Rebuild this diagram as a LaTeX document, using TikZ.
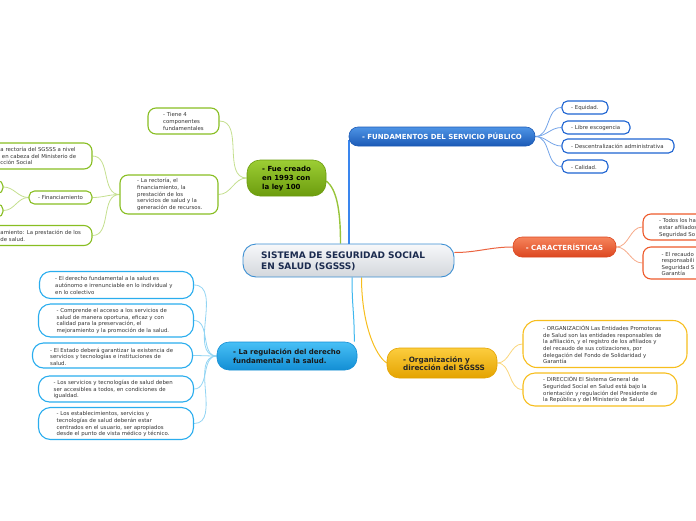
\documentclass[tikz,border=0pt]{standalone}
\usepackage{fontspec}
\setmainfont{DejaVu Sans}
\usetikzlibrary{backgrounds}
\definecolor{txt}{HTML}{363636}
\definecolor{navy}{HTML}{1B2B4F}
\definecolor{cenBorder}{HTML}{3C8FD2}
\definecolor{cenTop}{HTML}{F7F8FA}
\definecolor{cenBot}{HTML}{D3D7DC}
% green
\definecolor{gK}{HTML}{88BE22}
\definecolor{gL}{HTML}{C4DF8E}
\definecolor{gT}{HTML}{9CCE34}
\definecolor{gB}{HTML}{6C9C0E}
\definecolor{gM}{HTML}{98C43A}
% blue
\definecolor{bK}{HTML}{1E64D2}
\definecolor{bL}{HTML}{74A4E8}
\definecolor{bT}{HTML}{4E94E6}
\definecolor{bB}{HTML}{1B5AB6}
\definecolor{blueLine}{HTML}{3A86EE}
% red
\definecolor{rK}{HTML}{EE5A2B}
\definecolor{rL}{HTML}{F6AA8A}
\definecolor{rT}{HTML}{F6845C}
\definecolor{rB}{HTML}{DC4720}
\definecolor{rM}{HTML}{EB6440}
% orange
\definecolor{oK}{HTML}{F7BE1E}
\definecolor{oL}{HTML}{FAD67C}
\definecolor{oT}{HTML}{FCCD3E}
\definecolor{oB}{HTML}{E4A300}
\definecolor{oM}{HTML}{F7BE1E}
% cyan
\definecolor{cK}{HTML}{2AADEE}
\definecolor{cL}{HTML}{92D4F3}
\definecolor{cT}{HTML}{48C0F6}
\definecolor{cB}{HTML}{138ED4}
\definecolor{cM}{HTML}{3FB7EE}
\tikzset{
  kid/.style={draw=#1, line width=1.1pt, fill=white, rounded corners=8pt, inner sep=0pt},
  smallkid/.style={draw=#1, line width=1.1pt, fill=white, rounded corners=5.5pt, inner sep=0pt},
  ktext/.style={anchor=west, align=left, inner sep=0pt, text=txt, font=\fontsize{5.4}{6.6}\selectfont},
  mtext/.style={anchor=west, align=left, inner sep=0pt, font=\bfseries\fontsize{7}{8.6}\selectfont},
  mainbox/.style n args={3}{draw=#1, line width=0.6pt, top color=#2, bottom color=#3, inner sep=0pt},
  conn/.style={draw=#1, line width=0.8pt},
  mconn/.style={draw=#1, line width=1.2pt}
}
\begin{document}
\begin{tikzpicture}[x=1pt,y=-1pt]
\useasboundingbox (0,0) rectangle (696,520);
\clip (0,0) rectangle (696,520);

% ---------- central ----------
\node[draw=cenBorder, line width=0.9pt, top color=cenTop, bottom color=cenBot, rounded corners=13pt,
      minimum width=211pt, minimum height=33pt, inner sep=0pt] (C) at (348.5,260.5) {};
\node[anchor=west, align=left, inner sep=0pt, text=navy, font=\bfseries\fontsize{9}{11}\selectfont]
      (Ct) at (261,261.5) {SISTEMA DE SEGURIDAD SOCIAL\\EN SALUD (SGSSS)};

% ---------- green branch ----------
\node[mainbox={gB}{gT}{gB}, rounded corners=13pt, minimum width=79pt, minimum height=36pt] (G) at (286.5,178) {};
\node[mtext, text=black] (Gt) at (262,178.5) {- Fue creado\\en 1993 con\\la ley 100};

\node[kid=gK, minimum width=71pt, minimum height=26pt] (T4) at (183.5,121) {};
\node[ktext] (T4t) at (163,121.5) {- Tiene 4\\componentes\\fundamentales};

\node[kid=gK, minimum width=98pt, minimum height=39pt] (R) at (169,194.5) {};
\node[ktext] (Rt) at (137,194.5) {- La rectoría, el\\financiamiento, la\\prestación de los\\servicios de salud y la\\generación de recursos.};

\node[kid=gK, minimum width=122pt, minimum height=26pt] (R1) at (31,156) {};
\node[ktext] (R1t) at (0.3,156) {a rectoría del SGSSS a nivel\\\hspace*{1.5pt}en cabeza del Ministerio de\\cción Social};

\node[smallkid=gK, minimum width=63pt, minimum height=13pt] (R2) at (60.5,197.5) {};
\node[ktext] (R2t) at (38,197.5) {- Financiamiento};
\node[smallkid=gK, minimum width=63pt, minimum height=13pt] (R2a) at (-28.5,187) {};
\node[smallkid=gK, minimum width=63pt, minimum height=13pt] (R2b) at (-28.5,210.5) {};

\node[kid=gK, minimum width=132pt, minimum height=20pt] (R3) at (26,235.5) {};
\node[ktext] (R3t) at (0.3,236) {amiento: La prestación de los\\de salud.};

% ---------- blue branch ----------
\node[mainbox={bB}{bT}{bB}, rounded corners=9pt, minimum width=186pt, minimum height=19pt,
      text=white, font=\bfseries\fontsize{7}{8.6}\selectfont] (B) at (442,136.5) {- FUNDAMENTOS DEL SERVICIO PÚBLICO};
\coordinate (BfootA) at (348.2,140);
\coordinate (BfootB) at (350.2,250);

\node[smallkid=bK, minimum width=46pt, minimum height=13pt] (B1) at (585,107.5) {};
\node[ktext] (B1t) at (571,108) {- Equidad.};
\node[smallkid=bK, minimum width=68pt, minimum height=13pt] (B2) at (596,127.5) {};
\node[ktext] (B2t) at (571,128) {- Libre escogencia};
\node[smallkid=bK, minimum width=112pt, minimum height=14pt] (B3) at (618,146) {};
\node[ktext] (B3t) at (571,146.5) {- Descentralización administrativa};
\node[smallkid=bK, minimum width=46pt, minimum height=13pt] (B4) at (585,166.5) {};
\node[ktext] (B4t) at (571,167) {- Calidad.};

% ---------- red branch ----------
\node[mainbox={rB}{rT}{rB}, rounded corners=9pt, minimum width=103pt, minimum height=20pt,
      text=white, font=\bfseries\fontsize{7}{8.6}\selectfont] (RD) at (564.5,247) {- CARACTERÍSTICAS};

\node[kid=rK, minimum width=117pt, minimum height=26pt] (RD1) at (701.5,227) {};
\node[ktext] (RD1t) at (659,228) {- Todos los ha\\estar afiliados\\Seguridad So};
\node[kid=rK, minimum width=117pt, minimum height=32pt] (RD2) at (701.5,263) {};
\node[ktext] (RD2t) at (661.5,264) {- El recaudo\\responsabili\\Seguridad S\\Garantía};

% ---------- orange branch ----------
\node[mainbox={oB}{oT}{oB}, rounded corners=12pt, minimum width=110pt, minimum height=30pt] (O) at (442,363) {};
\node[mtext, text=black!85, font=\bfseries\fontsize{7.3}{8.6}\selectfont] (Ot) at (403,363.5) {- Organización y\\dirección del SGSSS};

\node[kid=oK, rounded corners=14pt, minimum width=164pt, minimum height=47pt] (O1) at (605,344) {};
\node[ktext] (O1t) at (543,344.7) {- ORGANIZACIÓN Las Entidades Promotoras\\de Salud son las entidades responsables de\\la afiliación, y el registro de los afiliados y\\del recaudo de sus cotizaciones, por\\delegación del Fondo de Solidaridad y\\Garantía};
\node[kid=oK, rounded corners=12pt, minimum width=154pt, minimum height=33pt] (O2) at (600,389.5) {};
\node[ktext] (O2t) at (543,389.8) {- DIRECCIÓN El Sistema General de\\Seguridad Social en Salud está bajo la\\orientación y regulación del Presidente de\\la República y del Ministerio de Salud};

% ---------- cyan branch ----------
\node[mainbox={cB}{cT}{cB}, rounded corners=12pt, minimum width=140pt, minimum height=28pt] (CY) at (287,356) {};
\node[mtext, text=black!90] (CYt) at (233,356.5) {- La regulación del derecho\\fundamental a la salud.};

\node[kid=cK, rounded corners=11pt, minimum width=154pt, minimum height=27pt] (CY1) at (116.5,285) {};
\node[ktext] (CY1t) at (55,285.5) {- El derecho fundamental a la salud es\\autónomo e irrenunciable en lo individual y\\en lo colectivo};
\node[kid=cK, rounded corners=12pt, minimum width=155pt, minimum height=33pt] (CY2) at (116,320.5) {};
\node[ktext] (CY2t) at (56.5,321) {- Comprende el acceso a los servicios de\\salud de manera oportuna, eficaz y con\\calidad para la preservación, el\\mejoramiento y la promoción de la salud.};
\node[kid=cK, rounded corners=11pt, minimum width=160pt, minimum height=25pt] (CY3) at (112.5,355.5) {};
\node[ktext] (CY3t) at (50,356.7) {- El Estado deberá garantizar la existencia de\\servicios y tecnologías e instituciones de\\salud.};
\node[kid=cK, rounded corners=11pt, minimum width=155pt, minimum height=26pt] (CY4) at (116,389) {};
\node[ktext] (CY4t) at (53.5,389.5) {- Los servicios y tecnologías de salud deben\\ser accesibles a todos, en condiciones de\\igualdad.};
\node[kid=cK, rounded corners=12pt, minimum width=155pt, minimum height=32pt] (CY5) at (116,423.5) {};
\node[ktext] (CY5t) at (56.5,424.3) {- Los establecimientos, servicios y\\tecnologías de salud deberán estar\\centrados en el usuario, ser apropiados\\desde el punto de vista médico y técnico.};

% ---------- connectors ----------
\begin{scope}[on background layer]
  % main branches
  \draw[mconn=gM, line width=1.4pt] ([yshift=-3pt]G.east) .. controls +(10,8) and +(0,-35) .. ([xshift=-8pt]C.north);
  \fill[blueLine] (BfootA) rectangle (BfootB);
  \draw[mconn=rM, line width=1pt] ([yshift=8pt]C.east) to[out=0,in=180] (RD.west);
  \draw[mconn=cM, line width=1pt] ([xshift=3.5pt]C.south) .. controls +(0,30) and +(0,-30) .. ([xshift=-3pt]CY.north east);
  \draw[mconn=oM, line width=1pt] ([xshift=13pt]C.south) .. controls +(0,45) and +(-12,-8) .. (O.west);
  % green sub
  \draw[conn=gL] (G.west) to[out=180,in=0] (T4.east);
  \draw[conn=gL] (G.west) to[out=180,in=0] (R.east);
  \draw[conn=gL] (R.west) to[out=180,in=0] (R1.east);
  \draw[conn=gL] (R.west) to[out=180,in=0] (R2.east);
  \draw[conn=gL] (R.west) to[out=180,in=0] (R3.east);
  \draw[conn=gL] (R2.west) to[out=180,in=0] (R2a.east);
  \draw[conn=gL] (R2.west) to[out=180,in=0] (R2b.east);
  % blue sub
  \foreach \k in {B1,B2,B3,B4} \draw[conn=bL] (B.east) to[out=0,in=180] (\k.west);
  % red sub
  \foreach \k in {RD1,RD2} \draw[conn=rL] (RD.east) to[out=0,in=180] (\k.west);
  % orange sub
  \foreach \k in {O1,O2} \draw[conn=oL] (O.east) to[out=0,in=180] (\k.west);
  % cyan sub
  \foreach \k in {CY1,CY2,CY3,CY4,CY5} \draw[conn=cL] (CY.west) to[out=180,in=0] (\k.east);
\end{scope}
\end{tikzpicture}
\end{document}
